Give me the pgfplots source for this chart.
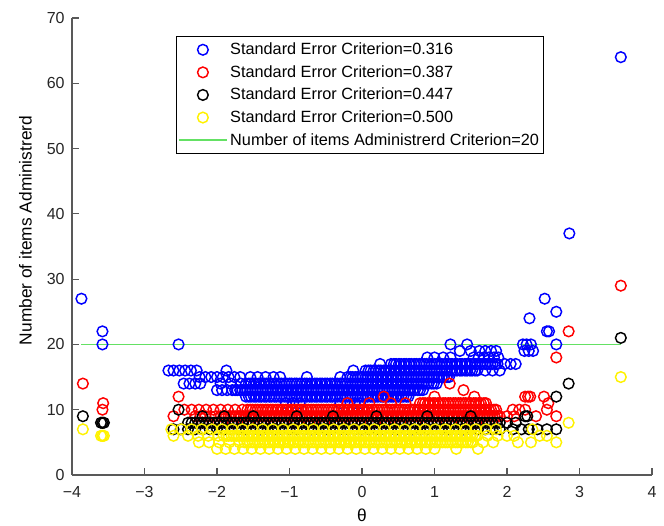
\documentclass[border=0pt]{standalone}
\usepackage{fontspec}
\setmainfont{Liberation Sans}
\usepackage{pgfplots}
\pgfplotsset{compat=1.18}
\definecolor{mlgreen}{RGB}{100,225,100}
\begin{document}
\begin{tikzpicture}
\begin{axis}[
  scale only axis, width=435pt, height=342.75pt,
  xmin=-4, xmax=4, ymin=0, ymax=70,
  axis x line*=bottom, axis y line*=left,
  xtick={-4,-3,-2,-1,0,1,2,3,4}, xticklabels={−4,−3,−2,−1,0,1,2,3,4},
  ytick={0,10,20,30,40,50,60,70},
  tick align=inside, major tick length=5pt,
  axis line style={draw=black!65, line width=0.8pt},
  every tick/.style={black!65, line width=0.8pt},
  tick label style={font=\fontsize{12}{14}\selectfont, black!85},
  xticklabel style={yshift=-5pt},
  yticklabel style={xshift=-2pt},
  /pgf/number format/assume math mode=true,
  xlabel={θ}, ylabel={Number of items Administrerd},
  label style={font=\fontsize{13}{15}\selectfont},
  xlabel style={at={(axis description cs:0.5,-0.0875)}, anchor=center},
  ylabel style={at={(axis description cs:-0.0805,0.535)}, anchor=center},
  legend style={at={(0.179,0.961)}, anchor=north west, draw=black, line width=0.6pt,
    font=\fontsize{12.2}{14}\selectfont, row sep=2.6pt, inner ysep=3pt, inner xsep=1.5pt},
  legend cell align=left,
  legend image code/.code={\draw[mark repeat=2,mark phase=2,#1] plot coordinates {(0pt,0pt) (18pt,0pt) (36pt,0pt)};},
  clip=false,
]
% SE = 0.316
\addplot[only marks, mark=o, mark size=4pt, line width=1.1pt, color=blue] coordinates {
(-3.87,27) (-3.58,22) (-3.58,20) (-2.53,20) (1.22,20) (1.45,20) (2.22,20) (2.27,20) (2.33,20) (2.68,20)
(2.24,19) (2.30,19) (2.36,19) (2.31,24) (2.52,27) (2.68,25) (2.55,22) (2.58,22) (2.86,37) (3.57,64)
(1.35,19) (1.50,19) (1.62,19) (1.70,19) (1.78,19) (1.85,19)
(0.90,18) (1.00,18) (1.12,18) (1.22,18) (1.54,18) (1.61,18) (1.68,18) (1.75,18) (1.82,18) (1.88,18)
(0.25,17) (0.40,17) (0.47,17) (0.54,17) (0.61,17) (0.68,17) (0.75,17) (0.82,17) (0.89,17) (0.96,17)
(1.03,17) (1.10,17) (1.17,17) (1.24,17) (1.31,17) (1.38,17) (1.45,17) (1.52,17) (1.59,17) (1.66,17)
(1.73,17) (1.80,17) (1.87,17) (1.97,17) (2.05,17) (2.12,17)
(0.44,17) (0.51,17) (0.58,17) (0.65,17) (0.72,17) (0.79,17) (0.86,17) (0.93,17) (1.00,17) (1.07,17)
(1.14,17) (1.21,17) (1.28,17) (1.35,17) (1.42,17) (1.49,17) (1.56,17) (1.63,17) (1.70,17) (1.77,17) (1.84,17)
(-2.67,16) (-2.60,16) (-2.52,16) (-2.44,16) (-2.36,16) (-2.28,16) (-1.87,16) (-0.12,16)
(0.05,16) (0.12,16) (0.19,16) (0.26,16) (0.33,16) (0.40,16) (0.47,16) (0.54,16) (0.61,16) (0.68,16)
(0.75,16) (0.82,16) (0.89,16) (0.96,16) (1.03,16) (1.10,16) (1.17,16) (1.24,16) (1.31,16) (1.38,16)
(1.45,16) (1.52,16) (1.59,16) (1.70,16) (1.80,16) (1.90,16)
(0.09,16) (0.16,16) (0.23,16) (0.30,16) (0.37,16) (0.44,16) (0.51,16) (0.58,16) (0.65,16) (0.72,16)
(0.79,16) (0.86,16) (0.93,16) (1.00,16) (1.07,16) (1.14,16) (1.21,16) (1.28,16) (1.35,16) (1.42,16)
(1.49,16) (1.56,16)
(-2.24,15) (-2.16,15) (-2.08,15) (-2.00,15) (-1.92,15) (-1.84,15) (-1.76,15) (-1.68,15)
(-1.54,15) (-1.44,15) (-1.33,15) (-1.22,15) (-1.13,15) (-0.76,15) (-0.30,15)
(-0.20,15) (-0.13,15) (-0.06,15) (0.01,15) (0.08,15) (0.15,15) (0.22,15) (0.29,15) (0.36,15) (0.43,15)
(0.50,15) (0.57,15) (0.64,15) (0.71,15) (0.78,15) (0.85,15) (0.92,15) (0.99,15) (1.06,15) (1.13,15) (1.20,15)
(-0.16,15) (-0.09,15) (-0.02,15) (0.05,15) (0.12,15) (0.19,15) (0.26,15) (0.33,15) (0.40,15) (0.47,15)
(0.54,15) (0.61,15) (0.68,15) (0.75,15) (0.82,15) (0.89,15) (0.96,15) (1.03,15) (1.10,15) (1.17,15)
(-2.46,14) (-2.38,14) (-2.30,14) (-2.23,14)
(-1.95,14) (-1.81,14) (-1.67,14) (-1.60,14) (-1.53,14) (-1.46,14) (-1.39,14) (-1.32,14)
(-1.25,14) (-1.18,14) (-1.11,14) (-1.04,14) (-0.97,14) (-0.90,14) (-0.83,14) (-0.76,14) (-0.69,14) (-0.62,14)
(-0.55,14) (-0.48,14) (-0.41,14) (-0.34,14) (-0.27,14) (-0.20,14) (-0.13,14) (-0.06,14) (0.01,14) (0.08,14)
(0.15,14) (0.22,14) (0.29,14) (0.36,14) (0.43,14) (0.50,14) (0.57,14) (0.64,14) (0.71,14) (0.78,14)
(0.85,14) (0.92,14) (0.99,14)
(-1.56,14) (-1.49,14) (-1.42,14) (-1.35,14) (-1.28,14)
(-1.21,14) (-1.14,14) (-1.07,14) (-1.00,14) (-0.93,14) (-0.86,14) (-0.79,14) (-0.72,14) (-0.65,14) (-0.58,14)
(-0.51,14) (-0.44,14) (-0.37,14) (-0.30,14) (-0.23,14) (-0.16,14) (-0.09,14) (-0.02,14) (0.05,14) (0.12,14)
(0.19,14) (0.26,14) (0.33,14) (0.40,14) (0.47,14) (0.54,14) (0.61,14) (0.68,14) (0.75,14) (0.82,14)
(0.89,14) (0.96,14) (1.03,14)
(-2.00,13) (-1.93,13) (-1.86,13) (-1.79,13) (-1.72,13) (-1.65,13) (-1.58,13) (-1.51,13) (-1.44,13) (-1.37,13)
(-1.30,13) (-1.23,13) (-1.16,13) (-1.09,13) (-1.02,13) (-0.95,13) (-0.88,13) (-0.81,13) (-0.74,13) (-0.67,13)
(-0.60,13) (-0.53,13) (-0.46,13) (-0.39,13) (-0.32,13) (-0.25,13) (-0.18,13) (-0.11,13) (-0.04,13) (0.03,13)
(0.10,13) (0.17,13) (0.24,13) (0.31,13) (0.38,13) (0.45,13) (0.52,13) (0.59,13) (0.66,13) (0.73,13) (0.80,13)
(-1.75,13) (-1.68,13) (-1.61,13) (-1.54,13) (-1.47,13) (-1.40,13) (-1.33,13)
(-1.26,13) (-1.19,13) (-1.12,13) (-1.05,13) (-0.98,13) (-0.91,13) (-0.84,13) (-0.77,13) (-0.70,13) (-0.63,13)
(-0.56,13) (-0.49,13) (-0.42,13) (-0.35,13) (-0.28,13) (-0.21,13) (-0.14,13) (-0.07,13) (0.00,13) (0.07,13)
(0.14,13) (0.21,13) (0.28,13) (0.35,13) (0.42,13) (0.49,13) (0.56,13) (0.63,13) (0.70,13) (0.77,13) (0.84,13)
(-1.60,12) (-1.53,12) (-1.46,12) (-1.39,12) (-1.32,12) (-1.25,12) (-1.18,12) (-1.11,12) (-1.04,12) (-0.97,12)
(-0.90,12) (-0.83,12) (-0.76,12) (-0.69,12) (-0.62,12) (-0.55,12) (-0.48,12) (-0.41,12) (-0.34,12) (-0.27,12)
(-0.20,12) (-0.13,12) (-0.06,12) (0.01,12) (0.08,12) (0.15,12) (0.22,12) (0.29,12) (0.36,12) (0.43,12)
(0.50,12) (0.57,12) (0.64,12)
(-1.56,12) (-1.49,12) (-1.42,12) (-1.35,12) (-1.28,12) (-1.21,12) (-1.14,12) (-1.07,12) (-1.00,12) (-0.93,12)
(-0.86,12) (-0.79,12) (-0.72,12) (-0.65,12) (-0.58,12) (-0.51,12) (-0.44,12) (-0.37,12) (-0.30,12) (-0.23,12)
(-0.16,12) (-0.09,12) (-0.02,12) (0.05,12) (0.12,12) (0.19,12) (0.26,12) (0.33,12) (0.40,12) (0.47,12)
(0.54,12) (0.61,12)
(-1.05,11) (-0.95,11) (-0.86,11) (-0.30,11) (-0.20,11) (-0.10,11) (-0.03,11)
};
\addlegendentry{Standard Error Criterion=0.316}
% SE = 0.387
\addplot[only marks, mark=o, mark size=4pt, line width=1.1pt, color=red] coordinates {
(-3.85,14) (-3.57,11) (-3.58,10) (-2.53,12) (-2.60,9) (0.30,12) (1.21,14) (1.40,13) (1.00,12) (1.55,12)
(2.25,12) (2.29,12) (2.32,12) (2.51,12) (2.57,11) (2.08,10) (2.17,10) (2.25,10) (2.55,10) (2.68,9)
(2.68,18) (2.85,22) (3.57,29) (2.00,9) (2.10,9) (2.40,9)
(-0.20,11) (0.10,11) (0.40,11) (0.60,11)
(0.80,11) (0.87,11) (0.94,11) (1.01,11) (1.08,11) (1.15,11) (1.22,11) (1.29,11) (1.36,11) (1.43,11)
(1.50,11) (1.57,11) (1.64,11) (1.71,11)
(0.84,11) (0.91,11) (0.98,11) (1.05,11) (1.12,11) (1.19,11) (1.26,11) (1.33,11) (1.40,11) (1.47,11)
(1.54,11) (1.61,11) (1.68,11)
(-2.45,10) (-2.35,10) (-2.25,10) (-2.15,10) (-2.05,10) (-1.95,10) (-1.85,10) (-1.75,10) (-1.65,10)
(-1.58,10) (-1.51,10) (-1.44,10) (-1.37,10) (-1.30,10) (-1.23,10) (-1.16,10) (-1.09,10) (-1.02,10) (-0.95,10)
(-0.88,10) (-0.81,10) (-0.74,10) (-0.67,10) (-0.60,10) (-0.53,10) (-0.46,10) (-0.39,10) (-0.32,10) (-0.25,10)
(-0.18,10) (-0.11,10) (-0.04,10) (0.03,10) (0.10,10) (0.17,10) (0.24,10) (0.31,10) (0.38,10) (0.45,10)
(0.52,10) (0.59,10) (0.66,10) (0.73,10) (0.80,10) (0.87,10) (0.94,10) (1.01,10) (1.08,10) (1.15,10)
(1.22,10) (1.29,10) (1.36,10) (1.43,10) (1.50,10) (1.57,10) (1.64,10) (1.71,10) (1.78,10) (1.85,10)
(-1.54,10) (-1.47,10) (-1.40,10) (-1.33,10) (-1.26,10) (-1.19,10) (-1.12,10) (-1.05,10) (-0.98,10) (-0.91,10)
(-0.84,10) (-0.77,10) (-0.70,10) (-0.63,10) (-0.56,10) (-0.49,10) (-0.42,10) (-0.35,10) (-0.28,10) (-0.21,10)
(-0.14,10) (-0.07,10) (0.00,10) (0.07,10) (0.14,10) (0.21,10) (0.28,10) (0.35,10) (0.42,10) (0.49,10)
(0.56,10) (0.63,10) (0.70,10) (0.77,10) (0.84,10) (0.91,10) (0.98,10) (1.05,10) (1.12,10) (1.19,10)
(1.26,10) (1.33,10) (1.40,10) (1.47,10) (1.54,10) (1.61,10) (1.68,10) (1.75,10) (1.82,10)
(-2.30,9) (-2.23,9) (-2.16,9) (-2.09,9) (-2.02,9) (-1.95,9) (-1.88,9) (-1.81,9) (-1.74,9) (-1.67,9)
(-1.60,9) (-1.53,9) (-1.46,9) (-1.39,9) (-1.32,9) (-1.25,9) (-1.18,9) (-1.11,9) (-1.04,9) (-0.97,9)
(-0.90,9) (-0.83,9) (-0.76,9) (-0.69,9) (-0.62,9) (-0.55,9) (-0.48,9) (-0.41,9) (-0.34,9) (-0.27,9)
(-0.20,9) (-0.13,9) (-0.06,9) (0.01,9) (0.08,9) (0.15,9) (0.22,9) (0.29,9) (0.36,9) (0.43,9)
(0.50,9) (0.57,9) (0.64,9) (0.71,9) (0.78,9) (0.85,9) (0.92,9) (0.99,9) (1.06,9) (1.13,9)
(1.20,9) (1.27,9) (1.34,9) (1.41,9) (1.48,9) (1.55,9) (1.62,9) (1.69,9) (1.76,9) (1.83,9) (1.90,9)
(-1.91,9) (-1.84,9) (-1.77,9) (-1.70,9) (-1.63,9)
(-1.56,9) (-1.49,9) (-1.42,9) (-1.35,9) (-1.28,9) (-1.21,9) (-1.14,9) (-1.07,9) (-1.00,9) (-0.93,9)
(-0.86,9) (-0.79,9) (-0.72,9) (-0.65,9) (-0.58,9) (-0.51,9) (-0.44,9) (-0.37,9) (-0.30,9) (-0.23,9)
(-0.16,9) (-0.09,9) (-0.02,9) (0.05,9) (0.12,9) (0.19,9) (0.26,9) (0.33,9) (0.40,9) (0.47,9)
(0.54,9) (0.61,9) (0.68,9) (0.75,9) (0.82,9) (0.89,9) (0.96,9) (1.03,9) (1.10,9) (1.17,9)
(1.24,9) (1.31,9) (1.38,9) (1.45,9) (1.52,9) (1.59,9) (1.66,9) (1.73,9) (1.80,9) (1.87,9)
(-2.20,8) (-1.99,8) (-1.78,8) (-1.57,8) (-1.36,8) (-1.15,8) (-0.94,8) (-0.73,8) (-0.52,8) (-0.31,8)
(-0.10,8) (0.11,8) (0.32,8) (0.53,8) (0.74,8) (0.95,8) (1.16,8) (1.37,8) (1.58,8) (1.79,8)
};
\addlegendentry{Standard Error Criterion=0.387}
% SE = 0.447
\addplot[only marks, mark=o, mark size=4pt, line width=1.1pt, color=black] coordinates {
(-3.85,9) (-3.58,8) (-3.56,8) (-3.60,8) (-2.53,10) (-2.60,7) (2.25,9) (2.28,9) (2.68,12) (2.85,14)
(3.57,21) (2.68,7) (2.55,7) (2.08,7) (2.20,7) (2.30,7) (2.42,7) (2.00,8) (2.12,8)
(-2.20,9) (-1.90,9) (-1.50,9) (-0.90,9) (-0.40,9) (0.20,9) (0.90,9) (1.50,9)
(-2.40,8) (-2.30,8) (-2.20,8) (-2.10,8) (-2.00,8) (-1.90,8) (-1.80,8) (-1.70,8) (-1.60,8) (-1.50,8)
(-1.40,8) (-1.30,8) (-1.20,8) (-1.10,8) (-1.00,8) (-0.90,8) (-0.80,8) (-0.70,8) (-0.60,8) (-0.50,8)
(-0.40,8) (-0.30,8) (-0.20,8) (-0.10,8) (0.00,8) (0.10,8) (0.20,8) (0.30,8) (0.40,8) (0.50,8)
(0.60,8) (0.70,8) (0.80,8) (0.90,8) (1.00,8) (1.10,8) (1.20,8) (1.30,8) (1.40,8) (1.50,8)
(1.60,8) (1.70,8) (1.80,8) (1.90,8)
(-2.35,8) (-2.25,8) (-2.15,8) (-2.05,8) (-1.95,8) (-1.85,8) (-1.75,8) (-1.65,8) (-1.55,8) (-1.45,8)
(-1.35,8) (-1.25,8) (-1.15,8) (-1.05,8) (-0.95,8) (-0.85,8) (-0.75,8) (-0.65,8) (-0.55,8) (-0.45,8)
(-0.35,8) (-0.25,8) (-0.15,8) (-0.05,8) (0.05,8) (0.15,8) (0.25,8) (0.35,8) (0.45,8) (0.55,8)
(0.65,8) (0.75,8) (0.85,8) (0.95,8) (1.05,8) (1.15,8) (1.25,8) (1.35,8) (1.45,8) (1.55,8)
(1.65,8) (1.75,8) (1.85,8)
(-2.50,7) (-2.40,7) (-2.30,7) (-2.20,7) (-2.10,7) (-2.00,7) (-1.90,7) (-1.80,7) (-1.70,7) (-1.60,7)
(-1.50,7) (-1.40,7) (-1.30,7) (-1.20,7) (-1.10,7) (-1.00,7) (-0.90,7) (-0.80,7) (-0.70,7) (-0.60,7)
(-0.50,7) (-0.40,7) (-0.30,7) (-0.20,7) (-0.10,7) (0.00,7) (0.10,7) (0.20,7) (0.30,7) (0.40,7)
(0.50,7) (0.60,7) (0.70,7) (0.80,7) (0.90,7) (1.00,7) (1.10,7) (1.20,7) (1.30,7) (1.40,7)
(1.50,7) (1.60,7) (1.70,7) (1.80,7) (1.90,7)
};
\addlegendentry{Standard Error Criterion=0.447}
% SE = 0.500
\addplot[only marks, mark=o, mark size=4pt, line width=1.1pt, color=yellow] coordinates {
(-3.85,7) (-3.58,6) (-3.56,6) (-3.60,6) (3.57,15) (2.85,8) (2.68,5) (2.55,6) (2.33,5) (2.15,5)
(2.00,6) (2.10,6) (2.45,6) (2.35,7)
(-2.63,7) (-2.49,7) (-2.35,7) (-2.21,7) (-2.07,7) (-1.93,7) (-1.79,7) (-1.65,7) (-1.51,7) (-1.37,7)
(-1.23,7) (-1.09,7) (-0.95,7) (-0.81,7) (-0.67,7) (-0.53,7) (-0.39,7) (-0.25,7) (-0.11,7) (0.03,7)
(0.17,7) (0.31,7) (0.45,7) (0.59,7) (0.73,7) (0.87,7) (1.01,7) (1.15,7) (1.29,7) (1.43,7)
(1.57,7) (1.71,7) (1.85,7)
(-2.60,6) (-2.40,6) (-2.26,6) (-2.12,6) (-1.98,6)
(-1.91,6) (-1.84,6) (-1.77,6) (-1.70,6) (-1.63,6) (-1.56,6) (-1.49,6) (-1.42,6) (-1.35,6) (-1.28,6)
(-1.21,6) (-1.14,6) (-1.07,6) (-1.00,6) (-0.93,6) (-0.86,6) (-0.79,6) (-0.72,6) (-0.65,6) (-0.58,6)
(-0.51,6) (-0.44,6) (-0.37,6) (-0.30,6) (-0.23,6) (-0.16,6) (-0.09,6) (-0.02,6) (0.05,6) (0.12,6)
(0.19,6) (0.26,6) (0.33,6) (0.40,6) (0.47,6) (0.54,6) (0.61,6) (0.68,6) (0.75,6) (0.82,6)
(0.89,6) (0.96,6) (1.03,6) (1.10,6) (1.17,6) (1.24,6) (1.31,6) (1.38,6) (1.45,6) (1.52,6) (1.59,6)
(1.73,6) (1.87,6)
(-1.87,6) (-1.80,6) (-1.73,6) (-1.66,6) (-1.59,6) (-1.52,6) (-1.45,6) (-1.38,6) (-1.31,6) (-1.24,6)
(-1.17,6) (-1.10,6) (-1.03,6) (-0.96,6) (-0.89,6) (-0.82,6) (-0.75,6) (-0.68,6) (-0.61,6) (-0.54,6)
(-0.47,6) (-0.40,6) (-0.33,6) (-0.26,6) (-0.19,6) (-0.12,6) (-0.05,6) (0.02,6) (0.09,6) (0.16,6)
(0.23,6) (0.30,6) (0.37,6) (0.44,6) (0.51,6) (0.58,6) (0.65,6) (0.72,6) (0.79,6) (0.86,6)
(0.93,6) (1.00,6) (1.07,6) (1.14,6) (1.21,6) (1.28,6) (1.35,6) (1.42,6) (1.49,6) (1.56,6)
(-2.25,5) (-2.11,5) (-1.97,5) (-1.83,5) (-1.69,5)
(-1.62,5) (-1.55,5) (-1.48,5) (-1.41,5) (-1.34,5) (-1.27,5) (-1.20,5) (-1.13,5) (-1.06,5) (-0.99,5)
(-0.92,5) (-0.85,5) (-0.78,5) (-0.71,5) (-0.64,5) (-0.57,5) (-0.50,5) (-0.43,5) (-0.36,5) (-0.29,5)
(-0.22,5) (-0.15,5) (-0.08,5) (-0.01,5) (0.06,5) (0.13,5) (0.20,5) (0.27,5) (0.34,5) (0.41,5)
(0.48,5) (0.55,5) (0.62,5) (0.69,5) (0.76,5) (0.83,5) (0.90,5) (0.97,5) (1.04,5) (1.11,5)
(1.18,5) (1.25,5) (1.32,5) (1.39,5) (1.46,5) (1.53,5) (1.67,5) (1.81,5)
(-1.58,5) (-1.51,5) (-1.44,5) (-1.37,5) (-1.30,5) (-1.23,5) (-1.16,5) (-1.09,5) (-1.02,5) (-0.95,5)
(-0.88,5) (-0.81,5) (-0.74,5) (-0.67,5) (-0.60,5) (-0.53,5) (-0.46,5) (-0.39,5) (-0.32,5) (-0.25,5)
(-0.18,5) (-0.11,5) (-0.04,5) (0.03,5) (0.10,5) (0.17,5) (0.24,5) (0.31,5) (0.38,5) (0.45,5)
(0.52,5) (0.59,5) (0.66,5) (0.73,5) (0.80,5) (0.87,5) (0.94,5) (1.01,5) (1.08,5) (1.15,5)
(1.22,5) (1.29,5) (1.36,5) (1.43,5) (1.50,5)
(-2.00,4) (-1.88,4) (-1.76,4) (-1.64,4) (-1.52,4) (-1.40,4) (-1.28,4) (-1.16,4) (-1.04,4) (-0.92,4)
(-0.80,4) (-0.68,4) (-0.56,4) (-0.44,4) (-0.32,4) (-0.20,4) (-0.08,4) (0.04,4) (0.16,4) (0.28,4)
(0.40,4) (0.52,4) (0.64,4) (0.76,4) (0.88,4) (1.00,4) (1.30,4) (1.60,4)
};
\addlegendentry{Standard Error Criterion=0.500}
\addplot[mlgreen, line width=1pt] coordinates {(-3.87,20) (3.57,20)};
\addlegendentry{Number of items Administrerd Criterion=20}
\coordinate (bl) at (rel axis cs:0,0);
\coordinate (tr) at (rel axis cs:1,1);
\end{axis}
\path (bl) ++(-54pt,-38.25pt) coordinate (A);
\path (tr) ++(9pt,13.5pt) coordinate (B);
\path (A) rectangle (B);
\end{tikzpicture}
\end{document}
